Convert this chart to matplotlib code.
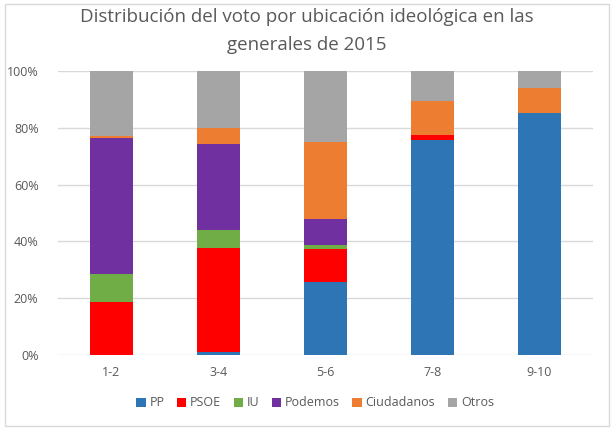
import numpy as np
import matplotlib.pyplot as plt
from matplotlib.patches import Rectangle

plt.rcParams['font.family'] = ['Open Sans', 'DejaVu Sans']

categories = ["1-2", "3-4", "5-6", "7-8", "9-10"]
parties = ["PP", "PSOE", "IU", "Podemos", "Ciudadanos", "Otros"]
pp = [0.0, 1.2, 25.8, 75.5, 85.0]
psoe = [18.7, 36.6, 11.6, 1.8, 0.0]
iu = [9.8, 6.1, 1.2, 0.0, 0.0]
podemos = [47.8, 30.3, 9.4, 0.0, 0.0]
ciudadanos = [0.7, 5.7, 26.9, 12.2, 8.8]
otros = [23.0, 20.1, 25.1, 10.5, 6.2]
colors = ["#2e75b6", "#ff0000", "#70ad47", "#7030a0", "#ed7d31", "#a5a5a5"]

series = [pp, psoe, iu, podemos, ciudadanos, otros]

fig = plt.figure(figsize=(6.16, 4.30), dpi=100)
ax = fig.add_axes([58/616, 1-355.3/430, 535/616, 284.6/430])

x = np.arange(len(categories))
bottom = np.zeros(len(categories))
for name, vals, col in zip(parties, series, colors):
    ax.bar(x, vals, 0.4, bottom=bottom, color=col, label=name, zorder=3)
    bottom += np.array(vals)

ax.set_xlim(-0.5, 4.5)
ax.set_ylim(0, 100)
ax.set_yticks(range(0, 101, 20))
ax.set_yticklabels([f"{v}%" for v in range(0, 101, 20)])
ax.set_xticks(x)
ax.set_xticklabels(categories)
ax.tick_params(length=0, colors="#595959", labelsize=9)
ax.tick_params(axis="y", pad=14)
ax.tick_params(axis="x", pad=8)
ax.grid(axis="y", color="#d9d9d9", linewidth=1, zorder=0)
for s in ax.spines.values():
    s.set_visible(False)

fig.text(307/616, 1-17/430, "Distribución del voto por ubicación ideológica en las",
         ha="center", va="center", fontsize=13.5, color="#595959")
fig.text(307/616, 1-45/430, "generales de 2015",
         ha="center", va="center", fontsize=13.5, color="#595959")

fig.legend(loc="center", bbox_to_anchor=(315/616, 1-403/430), ncol=6, frameon=False,
           fontsize=9, handlelength=0.75, handleheight=0.75, handletextpad=0.3,
           columnspacing=1.0, labelcolor="#595959")

fig.patches.append(Rectangle((5/616, 4/430), 604/616, 422/430, transform=fig.transFigure,
                             fill=False, edgecolor="#d9d9d9", linewidth=1))

fig.savefig("out.png", dpi=100)
